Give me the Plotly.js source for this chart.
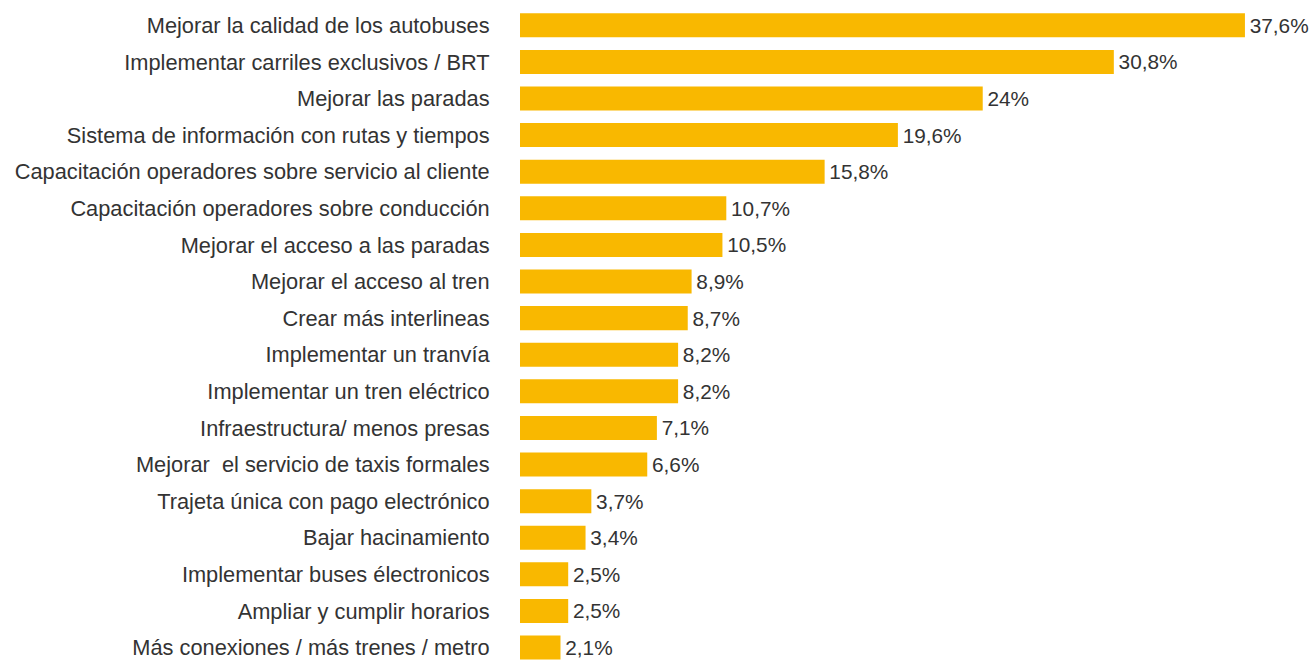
<!DOCTYPE html>
<html>
<head>
<meta charset="utf-8">
<script src="https://cdn.plot.ly/plotly-3.0.1.min.js"></script>
<style>html,body{margin:0;padding:0;background:#fff}#chart{width:1313px;height:660px}</style>
</head>
<body>
<div id="chart"></div>
<script>
const categories = [
  "Mejorar la calidad de los autobuses",
  "Implementar carriles exclusivos / BRT",
  "Mejorar las paradas",
  "Sistema de información con rutas y tiempos",
  "Capacitación operadores sobre servicio al cliente",
  "Capacitación operadores sobre conducción",
  "Mejorar el acceso a las paradas",
  "Mejorar el acceso al tren",
  "Crear más interlineas",
  "Implementar un tranvía",
  "Implementar un tren eléctrico",
  "Infraestructura/ menos presas",
  "Mejorar  el servicio de taxis formales",
  "Trajeta única con pago electrónico",
  "Bajar hacinamiento",
  "Implementar buses électronicos",
  "Ampliar y cumplir horarios",
  "Más conexiones / más trenes / metro"
];
const values = [37.6, 30.8, 24, 19.6, 15.8, 10.7, 10.5, 8.9, 8.7, 8.2, 8.2, 7.1, 6.6, 3.7, 3.4, 2.5, 2.5, 2.1];
const labels = values.map(v => String(v).replace('.', ',') + '%');

const labelFont = {family: "Liberation Sans, Arial, sans-serif", size: 21.8, color: "#333333"};
const valueFont = {family: "Liberation Sans, Arial, sans-serif", size: 20.8, color: "#333333"};

Plotly.newPlot('chart', [{
  type: 'bar',
  orientation: 'h',
  x: values,
  y: categories,
  text: labels,
  texttemplate: '\u200A%{text}',
  textposition: 'outside',
  cliponaxis: false,
  textfont: valueFont,
  marker: {color: '#F9B800'},
  hoverinfo: 'none'
}], {
  width: 1313, height: 660,
  margin: {l: 520, r: 0, t: 7, b: 0},
  paper_bgcolor: '#fff', plot_bgcolor: '#fff',
  bargap: 0.344,
  showlegend: false,
  xaxis: {range: [0, 41.13], visible: false, fixedrange: true},
  yaxis: {
    type: 'category',
    range: [17.34, -0.5],
    showgrid: false, zeroline: false, showline: false,
    ticks: 'outside', ticklen: 25, tickcolor: 'rgba(0,0,0,0)',
    tickfont: labelFont,
    automargin: false
  },
  font: labelFont
}, {displayModeBar: false, staticPlot: true});
</script>
</body>
</html>
